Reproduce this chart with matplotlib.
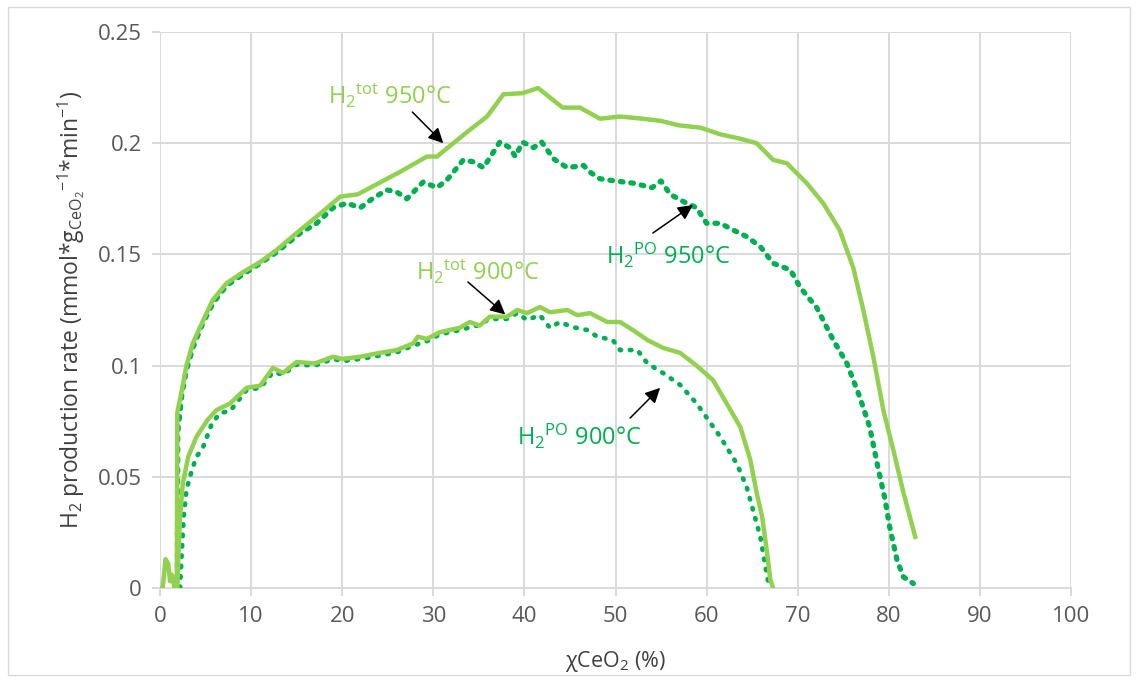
import matplotlib
matplotlib.use("Agg")
import matplotlib.pyplot as plt
from matplotlib.patches import Rectangle

plt.rcParams['font.family'] = ['Open Sans', 'DejaVu Sans']
plt.rcParams['mathtext.fontset'] = 'custom'
plt.rcParams['mathtext.rm'] = 'Open Sans'
plt.rcParams['mathtext.it'] = 'Open Sans:italic'
plt.rcParams['mathtext.bf'] = 'Open Sans:bold'

# ---- data ----
tot950_x = [0, 0.3, 0.6, 0.9, 1.1, 1.3, 1.6, 1.85, 1.9, 2.4, 2.9, 3.6, 4.7, 5.8, 7.3,
            9.1, 11.0, 12.8, 15.4, 17.2, 19.8, 21.7, 24.0, 26.3, 29.3, 30.4, 33.7, 35.9,
            37.7, 39.8, 41.5, 44.2, 46.1, 48.3, 50.5, 53.0, 55.0, 57.0, 59.3, 61.5, 63.7,
            65.5, 67.3, 68.8, 71.0, 72.8, 74.6, 76.1, 77.2, 78.3, 79.4, 80.5, 81.6, 82.9]
tot950_y = [0, 0, 0.013, 0.011, 0.003, 0.006, 0, 0, 0.079, 0.089, 0.100, 0.110, 0.120,
            0.1295, 0.137, 0.142, 0.1466, 0.152, 0.161, 0.167, 0.176, 0.177, 0.182, 0.187,
            0.194, 0.194, 0.205, 0.212, 0.222, 0.2225, 0.2248, 0.216, 0.216, 0.211, 0.212,
            0.211, 0.210, 0.208, 0.207, 0.204, 0.202, 0.200, 0.1925, 0.191, 0.182, 0.173,
            0.161, 0.144, 0.125, 0.104, 0.080, 0.062, 0.043, 0.023]

po950_x = [1.9, 1.95, 2.4, 2.9, 3.6, 4.7, 5.8, 7.3, 9.1, 11.0, 12.8, 15.4, 17.2, 19.0,
           20.5, 22.0, 23.3, 24.9, 26.0, 27.1, 28.9, 30.4, 31.5, 33.3, 34.4, 35.5, 36.6,
           37.3, 38.4, 39.0, 39.8, 41.0, 41.9, 43.2, 44.7, 46.5, 47.2, 48.3, 50.0, 52.0,
           54.0, 55.0, 56.0, 57.8, 58.9, 60.0, 61.5, 62.9, 64.4, 65.9, 67.3, 69.2, 70.3,
           72.1, 73.9, 75.4, 76.8, 77.9, 78.8, 79.6, 80.1, 80.9, 81.6, 82.7]
po950_y = [0, 0.07, 0.087, 0.098, 0.108, 0.119, 0.128, 0.136, 0.141, 0.146, 0.151, 0.1596,
           0.164, 0.171, 0.173, 0.171, 0.175, 0.179, 0.178, 0.175, 0.1826, 0.180, 0.1835,
           0.1925, 0.1916, 0.189, 0.196, 0.2005, 0.198, 0.194, 0.2005, 0.198, 0.2005, 0.193,
           0.189, 0.190, 0.187, 0.184, 0.183, 0.182, 0.180, 0.183, 0.177, 0.173, 0.171,
           0.164, 0.164, 0.161, 0.158, 0.1535, 0.146, 0.143, 0.135, 0.126, 0.1115, 0.101,
           0.086, 0.0724, 0.0544, 0.0396, 0.0274, 0.0126, 0.005, 0.002]

tot900_x = [1.9, 2.0, 2.2, 2.5, 3.1, 4.0, 5.2, 6.2, 7.7, 9.5, 11.0, 12.4, 13.5, 15.0, 17.0,
            19.0, 20.0, 22.0, 24.1, 26.0, 27.8, 28.3, 29.3, 30.7, 32.9, 34.0, 35.1, 36.2,
            38.1, 39.2, 40.3, 41.7, 42.8, 44.7, 45.8, 47.2, 49.1, 50.5, 51.9, 53.5, 55.2,
            57.1, 58.9, 60.7, 62.2, 63.7, 64.8, 65.5, 66.1, 66.6, 67.0, 67.3]
tot900_y = [0, 0.012, 0.032, 0.047, 0.059, 0.068, 0.0755, 0.080, 0.083, 0.090, 0.091,
            0.099, 0.0967, 0.1016, 0.101, 0.104, 0.103, 0.104, 0.1057, 0.107, 0.110, 0.113,
            0.112, 0.115, 0.117, 0.1196, 0.118, 0.122, 0.122, 0.125, 0.1236, 0.1263, 0.124,
            0.125, 0.1227, 0.1236, 0.1196, 0.1196, 0.116, 0.1115, 0.108, 0.1057, 0.100,
            0.0935, 0.083, 0.0724, 0.0576, 0.0427, 0.032, 0.017, 0.0036, 0]

po900_x = [2.2, 2.4, 2.6, 2.9, 3.5, 4.0, 4.7, 5.7, 6.6, 7.7, 9.5, 11.0, 12.4, 13.5, 15.0,
           17.0, 19.0, 20.0, 22.0, 24.1, 26.0, 27.8, 29.3, 30.7, 32.9, 34.8, 36.2, 38.1,
           39.2, 40.3, 41.7, 42.8, 43.9, 45.3, 46.9, 48.0, 49.7, 50.5, 52.4, 53.5, 55.2,
           57.1, 58.9, 61.5, 63.3, 64.4, 65.1, 65.9, 66.4, 66.8, 67.2]
po900_y = [0, 0.017, 0.032, 0.044, 0.053, 0.059, 0.063, 0.074, 0.0787, 0.0796, 0.089,
           0.090, 0.097, 0.096, 0.1005, 0.100, 0.103, 0.102, 0.103, 0.1045, 0.106, 0.109,
           0.111, 0.114, 0.116, 0.118, 0.121, 0.121, 0.1236, 0.1205, 0.1227, 0.117, 0.1196,
           0.1173, 0.116, 0.113, 0.1115, 0.107, 0.107, 0.101, 0.0967, 0.0913, 0.083, 0.068,
           0.056, 0.0454, 0.035, 0.023, 0.011, 0.002, 0]

x_ticks = [0, 10, 20, 30, 40, 50, 60, 70, 80, 90, 100]
y_ticks = [0, 0.05, 0.1, 0.15, 0.2, 0.25]
y_ticklabels = ['0', '0.05', '0.1', '0.15', '0.2', '0.25']

LIGHT = '#92D050'
DARK = '#00B050'
GRID = '#d9d9d9'
TICKC = '#595959'

fig = plt.figure(figsize=(11.37, 6.82), dpi=100)
ax = fig.add_axes([160/1137, 1-588/682, (1071-160)/1137, (588-32)/682])

ax.plot(po950_x, po950_y, color=DARK, lw=3.8, linestyle=(0, (0.5, 1.5)),
        dash_capstyle='round', zorder=3)
ax.plot(po900_x, po900_y, color=DARK, lw=3.4, linestyle=(0, (0.3, 1.9)),
        dash_capstyle='round', zorder=3)
ax.plot(tot950_x, tot950_y, color=LIGHT, lw=3.2, solid_joinstyle='round', zorder=4)
ax.plot(tot900_x, tot900_y, color=LIGHT, lw=3.2, solid_joinstyle='round', zorder=4)

ax.set_xlim(0, 100)
ax.set_ylim(0, 0.25)
ax.set_xticks(x_ticks)
ax.set_yticks(y_ticks)
ax.set_yticklabels(y_ticklabels)
ax.grid(True, color=GRID, lw=1.4)
ax.set_axisbelow(True)
for s in ['top', 'right', 'left']:
    ax.spines[s].set_visible(False)
ax.spines['bottom'].set_color(GRID)
ax.spines['bottom'].set_linewidth(1.4)
ax.tick_params(axis='both', colors=GRID, length=6, width=1.4, labelsize=16,
               labelcolor=TICKC, pad=7)

ax.set_xlabel(r'χCeO$_2$ (%)', fontsize=15.5, color='#404040', labelpad=16)
ax.set_ylabel(r'H$_2$ production rate (mmol*g$_{\mathregular{CeO_2}}$$^{\mathregular{-1}}$*min$^{\mathregular{-1}}$)',
              fontsize=16.5, color='#404040', labelpad=8)

arrow = dict(arrowstyle='-|>,head_length=0.9,head_width=0.45', color='black', lw=1.1,
             shrinkA=0, shrinkB=0)

ax.annotate('', xy=(31.1, 0.200), xytext=(27.7, 0.214), arrowprops=arrow)
ax.text(25.2, 0.221, r'H$_2$$^{\mathregular{tot}}$ 950°C', color=LIGHT, fontsize=17,
        ha='center', va='center')

ax.annotate('', xy=(37.9, 0.123), xytext=(33.8, 0.1376), arrowprops=arrow)
ax.text(34.9, 0.142, r'H$_2$$^{\mathregular{tot}}$ 900°C', color=LIGHT, fontsize=17,
        ha='center', va='center')

ax.annotate('', xy=(54.9, 0.090), xytext=(51.6, 0.0764), arrowprops=arrow)
ax.text(46.0, 0.068, r'H$_2$$^{\mathregular{PO}}$ 900°C', color=DARK, fontsize=17,
        ha='center', va='center')

ax.annotate('', xy=(58.5, 0.1722), xytext=(54.1, 0.1596), arrowprops=arrow)
ax.text(55.8, 0.1497, r'H$_2$$^{\mathregular{PO}}$ 950°C', color=DARK, fontsize=17,
        ha='center', va='center')

fig.patches.append(Rectangle((8/1137, 7/682), 1122/1137, 668/682, transform=fig.transFigure,
                             fill=False, edgecolor=GRID, lw=1.0))

fig.savefig('out.png', dpi=100)
